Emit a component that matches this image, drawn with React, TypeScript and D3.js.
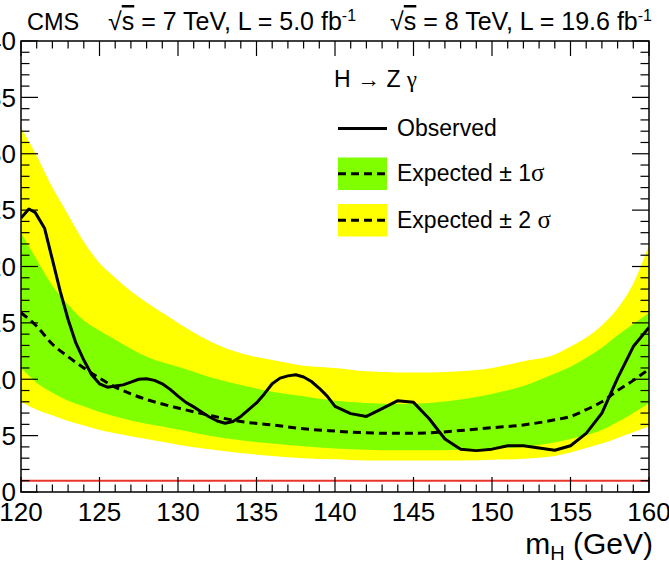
import React, { useEffect, useRef } from "react";
import * as d3 from "d3";

// band / expected grid
const masses = [120, 121, 122, 123, 124, 125, 126, 127, 128, 129, 130, 132, 134, 136, 138, 140, 142, 144, 146, 148, 150, 152, 154, 155, 156, 157, 158, 159, 160];
const expected = [15.9, 14.7, 13.1, 12.0, 11.0, 10.1, 9.3, 8.7, 8.2, 7.8, 7.45, 6.8, 6.25, 5.95, 5.6, 5.4, 5.25, 5.2, 5.25, 5.45, 5.7, 5.95, 6.4, 6.7, 7.3, 8.0, 9.0, 9.9, 10.9];
const plus1 = [23.0, 20.6, 18.3, 16.6, 15.2, 14.3, 13.5, 12.7, 12.0, 11.5, 11.1, 10.2, 9.5, 8.9, 8.5, 8.1, 7.9, 7.8, 7.9, 8.2, 8.7, 9.4, 10.5, 11.1, 11.9, 12.8, 13.9, 14.9, 15.9];
const minus1 = [11.0, 9.7, 8.8, 8.1, 7.6, 7.1, 6.7, 6.35, 6.05, 5.8, 5.55, 5.0, 4.6, 4.3, 4.05, 3.85, 3.75, 3.7, 3.7, 3.75, 3.85, 4.0, 4.4, 4.7, 5.05, 5.5, 6.2, 7.0, 7.9];
const plus2 = [32.3, 29.8, 27.0, 24.6, 22.2, 20.3, 19.0, 17.8, 16.8, 15.9, 15.0, 13.4, 12.3, 11.7, 11.2, 11.0, 10.7, 10.6, 10.6, 10.7, 11.0, 11.6, 12.2, 12.9, 13.7, 14.8, 16.3, 18.5, 21.9];
const minus2 = [8.0, 7.3, 6.8, 6.3, 5.9, 5.5, 5.2, 4.95, 4.7, 4.45, 4.2, 3.8, 3.45, 3.2, 3.0, 2.9, 2.8, 2.8, 2.8, 2.8, 2.85, 2.95, 3.2, 3.5, 3.9, 4.3, 4.8, 5.3, 5.8];

// observed limit
const obsMass = [120, 120.5, 120.9, 121.5, 122, 122.5, 123, 123.5, 124, 124.5, 125, 125.5, 126, 126.5, 127, 127.5, 128, 128.5, 129, 129.5, 130, 130.5, 131, 131.5, 132, 132.5, 133, 133.5, 134, 134.5, 135, 135.5, 136, 136.5, 137, 137.5, 138, 138.5, 139, 139.5, 140, 141, 142, 143, 144, 145, 146, 147, 148, 149, 150, 151, 152, 153, 154, 155, 156, 157, 158, 159, 160];
const observed = [24.3, 25.1, 24.8, 23.4, 20.6, 17.8, 15.3, 13.2, 11.7, 10.4, 9.6, 9.3, 9.4, 9.5, 9.75, 10.0, 10.05, 9.9, 9.6, 9.1, 8.5, 7.95, 7.55, 7.1, 6.65, 6.3, 6.1, 6.25, 6.7, 7.3, 7.9, 8.7, 9.6, 10.1, 10.3, 10.4, 10.2, 9.8, 9.2, 8.5, 7.6, 6.95, 6.7, 7.4, 8.1, 7.95, 6.5, 4.7, 3.8, 3.67, 3.8, 4.1, 4.1, 3.9, 3.7, 4.1, 5.2, 7.0, 10.1, 12.9, 14.6];

const xTicks = [120, 125, 130, 135, 140, 145, 150, 155, 160];
const yTicks = [0, 5, 10, 15, 20, 25, 30, 35, 40];
const smLine = 1;

const FONT = "'Liberation Sans', Arial, Helvetica, sans-serif";
const SERIF = "'Liberation Serif', 'DejaVu Serif', serif";

export default function App() {
  const ref = useRef<SVGSVGElement>(null);

  useEffect(() => {
    if (!ref.current) return;
    const W = 669, H = 563;
    const L = 21, R = 649, T = 41, B = 492;
    const svg = d3.select(ref.current);
    svg.selectAll("*").remove();

    const x = d3.scaleLinear().domain([120, 160]).range([L, R]);
    const y = d3.scaleLinear().domain([0, 40]).range([B, T]);

    svg.append("rect").attr("width", W).attr("height", H).attr("fill", "#fff");

    svg.append("clipPath").attr("id", "plot").append("rect")
      .attr("x", L).attr("y", T).attr("width", R - L).attr("height", B - T);
    const g = svg.append("g").attr("clip-path", "url(#plot)");

    const idx = d3.range(masses.length);
    const band = (lo: number[], hi: number[]) =>
      d3.area<number>().x((i) => x(masses[i])).y0((i) => y(lo[i])).y1((i) => y(hi[i])).curve(d3.curveMonotoneX)(idx);

    g.append("path").attr("d", band(minus2, plus2)).attr("fill", "#ffff00");
    g.append("path").attr("d", band(minus1, plus1)).attr("fill", "#80ff00");

    g.append("line").attr("x1", L).attr("x2", R).attr("y1", y(smLine)).attr("y2", y(smLine))
      .attr("stroke", "#e8352a").attr("stroke-width", 2);

    g.append("path")
      .attr("d", d3.line<number>().x((i) => x(masses[i])).y((i) => y(expected[i])).curve(d3.curveMonotoneX)(idx))
      .attr("fill", "none").attr("stroke", "#000").attr("stroke-width", 3).attr("stroke-dasharray", "8,5");

    g.append("path")
      .attr("d", d3.line<number>().x((i) => x(obsMass[i])).y((i) => y(observed[i]))(d3.range(obsMass.length)))
      .attr("fill", "none").attr("stroke", "#000").attr("stroke-width", 3).attr("stroke-linejoin", "round");

    // ticks on all sides
    const ax = svg.append("g").attr("stroke", "#000").attr("stroke-width", 1.2);
    d3.range(120, 160.01, 1).forEach((m) => {
      const major = m % 5 === 0;
      const len = major ? 15 : 7.5;
      ax.append("line").attr("x1", x(m)).attr("x2", x(m)).attr("y1", B).attr("y2", B - len);
      ax.append("line").attr("x1", x(m)).attr("x2", x(m)).attr("y1", T).attr("y2", T + len);
    });
    d3.range(0, 40.01, 1).forEach((v) => {
      const major = v % 5 === 0;
      const len = major ? 17 : 8.5;
      ax.append("line").attr("y1", y(v)).attr("y2", y(v)).attr("x1", L).attr("x2", L + len);
      ax.append("line").attr("y1", y(v)).attr("y2", y(v)).attr("x1", R).attr("x2", R - len);
    });
    svg.append("rect").attr("x", L).attr("y", T).attr("width", R - L).attr("height", B - T)
      .attr("fill", "none").attr("stroke", "#000").attr("stroke-width", 1.5);

    // tick labels
    svg.append("g").selectAll("text").data(xTicks).join("text")
      .attr("x", (d) => x(d)).attr("y", 521).attr("text-anchor", "middle")
      .attr("font-family", FONT).attr("font-size", 26).text((d) => d);
    svg.append("g").selectAll("text").data(yTicks).join("text")
      .attr("x", 16).attr("y", (d) => y(d) + 9.3).attr("text-anchor", "end")
      .attr("font-family", FONT).attr("font-size", 26).text((d) => d);

    // x title
    const xt = svg.append("text").attr("x", 653).attr("y", 554).attr("text-anchor", "end")
      .attr("font-family", FONT).attr("font-size", 30);
    xt.append("tspan").text("m");
    xt.append("tspan").attr("font-size", 20).attr("dy", 6).text("H");
    xt.append("tspan").attr("dy", -6).text(" (GeV)");

    // header
    const hdr = (tx: number, anchor: string, e: string, lum: string) => {
      const t = svg.append("text").attr("x", tx).attr("y", 30).attr("text-anchor", anchor)
        .attr("font-family", FONT).attr("font-size", 25);
      t.append("tspan").text("√");
      t.append("tspan").attr("text-decoration", "overline").text("s");
      t.append("tspan").text(` = ${e} TeV, L = ${lum} fb`);
      t.append("tspan").attr("font-size", 16).attr("dy", -9).text("-1");
    };
    svg.append("text").attr("x", 27).attr("y", 30).attr("font-family", FONT).attr("font-size", 23.5).text("CMS");
    hdr(108, "start", "7", "5.0");
    hdr(652, "end", "8", "19.6");

    // legend
    const lg = svg.append("g").attr("font-family", FONT).attr("font-size", 23);
    const ht = lg.append("text").attr("x", 334).attr("y", 87);
    ht.append("tspan").text("H → Z ");
    ht.append("tspan").attr("font-family", SERIF).text("γ");

    lg.append("line").attr("x1", 338).attr("x2", 387).attr("y1", 128.5).attr("y2", 128.5)
      .attr("stroke", "#000").attr("stroke-width", 3);
    lg.append("text").attr("x", 397).attr("y", 136).text("Observed");

    const items = [
      { fill: "#80ff00", y0: 157.5, label: "Expected ± 1", },
      { fill: "#ffff00", y0: 204, label: "Expected ± 2 " },
    ];
    items.forEach((it) => {
      lg.append("rect").attr("x", 338).attr("y", it.y0).attr("width", 49).attr("height", 32.5).attr("fill", it.fill);
      lg.append("line").attr("x1", 338).attr("x2", 387).attr("y1", it.y0 + 16.25).attr("y2", it.y0 + 16.25)
        .attr("stroke", "#000").attr("stroke-width", 3).attr("stroke-dasharray", "8,5");
      const t = lg.append("text").attr("x", 397).attr("y", it.y0 + 23.5);
      t.append("tspan").text(it.label);
      t.append("tspan").attr("font-family", SERIF).attr("font-size", 25).text("σ");
    });
  }, []);

  return (
    <svg ref={ref} width={669} height={563} style={{ position: "absolute", left: 0, top: 0 }} />
  );
}
